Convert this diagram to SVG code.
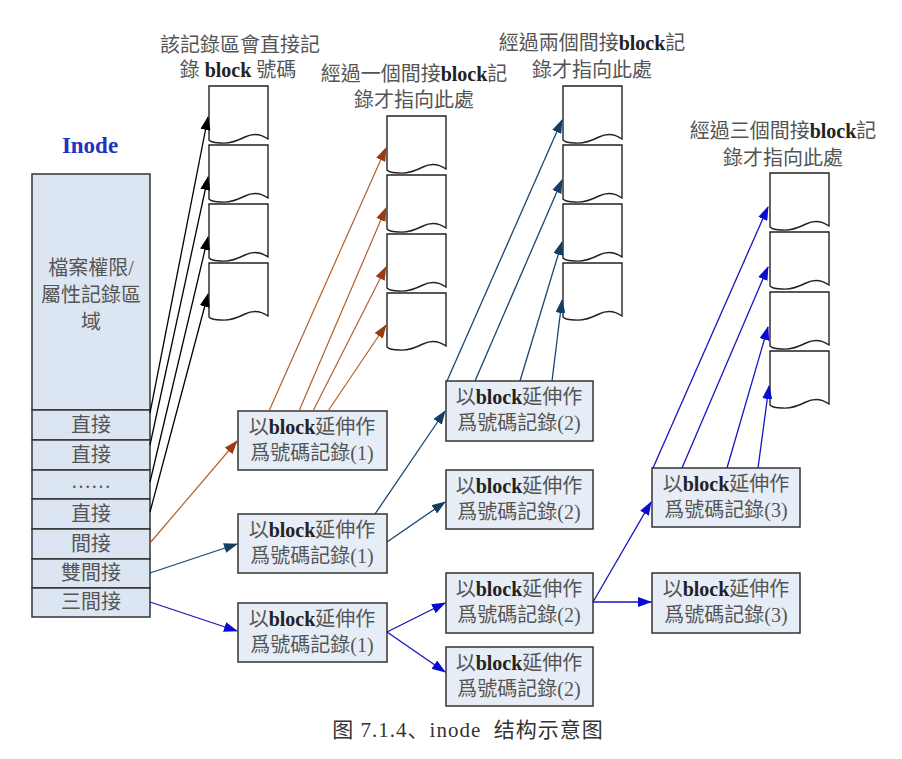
<svg xmlns="http://www.w3.org/2000/svg" xmlns:xlink="http://www.w3.org/1999/xlink" width="902" height="759" viewBox="0 0 902 759">
<style>
.t{font-family:"Liberation Serif","Noto Sans CJK TC",serif;font-size:20px;fill:#555;text-anchor:middle}
.b{font-weight:bold;fill:#222}
.box{fill:#e7edf6;stroke:#333;stroke-width:1.5}
.ino{fill:#dce6f2;stroke:#333;stroke-width:1.5}
.doc{fill:#fff;stroke:#222;stroke-width:1.4}
.k{stroke:#000;stroke-width:1.3;fill:none;marker-end:url(#ak)}
.r{stroke:#b0602c;stroke-width:1.2;fill:none;marker-end:url(#ar)}
.d{stroke:#1a4670;stroke-width:1.3;fill:none;marker-end:url(#ad)}
.u{stroke:#1515c0;stroke-width:1.3;fill:none;marker-end:url(#au)}
</style>
<defs>
<path id="doc" class="doc" d="M0,0 H59 V53 C52,48 44,47 36,51 C28,55 20,58 12,57 C6,57 2,56 0,54 Z"/>
<marker id="ak" markerWidth="14" markerHeight="10" refX="13" refY="5" orient="auto" markerUnits="userSpaceOnUse"><path d="M0,0 L14,5 L0,10 Z" fill="#000"/></marker>
<marker id="ar" markerWidth="14" markerHeight="10" refX="13" refY="5" orient="auto" markerUnits="userSpaceOnUse"><path d="M0,0 L14,5 L0,10 Z" fill="#9a3c12"/></marker>
<marker id="ad" markerWidth="14" markerHeight="10" refX="13" refY="5" orient="auto" markerUnits="userSpaceOnUse"><path d="M0,0 L14,5 L0,10 Z" fill="#133d63"/></marker>
<marker id="au" markerWidth="14" markerHeight="10" refX="13" refY="5" orient="auto" markerUnits="userSpaceOnUse"><path d="M0,0 L14,5 L0,10 Z" fill="#0a0ad0"/></marker>
</defs>
<rect width="902" height="759" fill="#fff"/>

<g id="inode">
<text x="90" y="153" style="font-family:'Liberation Serif',serif;font-size:23px;font-weight:bold;fill:#2233c0;text-anchor:middle">Inode</text>
<rect class="ino" x="32" y="174" width="118" height="236"/>
<text class="t" x="91" y="275">檔案權限/</text>
<text class="t" x="91" y="302">屬性記錄區</text>
<text class="t" x="91" y="329">域</text>
<rect class="ino" x="32" y="410" width="118" height="30"/>
<text class="t" x="91" y="432">直接</text>
<rect class="ino" x="32" y="440" width="118" height="30"/>
<text class="t" x="91" y="462">直接</text>
<rect class="ino" x="32" y="470" width="118" height="29"/>
<text class="t" x="91" y="488">……</text>
<rect class="ino" x="32" y="499" width="118" height="30"/>
<text class="t" x="91" y="521">直接</text>
<rect class="ino" x="32" y="529" width="118" height="30"/>
<text class="t" x="91" y="551">間接</text>
<rect class="ino" x="32" y="559" width="118" height="29"/>
<text class="t" x="91" y="580">雙間接</text>
<rect class="ino" x="32" y="588" width="118" height="29"/>
<text class="t" x="91" y="609">三間接</text>
</g>

<g id="col-direct">
<text class="t" x="240" y="52">該記錄區會直接記</text>
<text class="t" x="238" y="77">錄 <tspan class="b">block</tspan> 號碼</text>
<use xlink:href="#doc" x="209" y="86"/>
<use xlink:href="#doc" x="209" y="145"/>
<use xlink:href="#doc" x="209" y="204"/>
<use xlink:href="#doc" x="209" y="263"/>
</g>

<g id="col-single">
<text class="t" x="414" y="81">經過一個間接<tspan class="b">block</tspan>記</text>
<text class="t" x="414" y="107">錄才指向此處</text>
<use xlink:href="#doc" x="387" y="116"/>
<use xlink:href="#doc" x="387" y="175"/>
<use xlink:href="#doc" x="387" y="234"/>
<use xlink:href="#doc" x="387" y="293"/>
</g>

<g id="col-double">
<text class="t" x="592" y="50">經過兩個間接<tspan class="b">block</tspan>記</text>
<text class="t" x="592" y="77">錄才指向此處</text>
<use xlink:href="#doc" x="563" y="86"/>
<use xlink:href="#doc" x="563" y="145"/>
<use xlink:href="#doc" x="563" y="204"/>
<use xlink:href="#doc" x="563" y="263"/>
</g>

<g id="col-triple">
<text class="t" x="783" y="138">經過三個間接<tspan class="b">block</tspan>記</text>
<text class="t" x="783" y="165">錄才指向此處</text>
<use xlink:href="#doc" x="770" y="173"/>
<use xlink:href="#doc" x="770" y="232"/>
<use xlink:href="#doc" x="770" y="292"/>
<use xlink:href="#doc" x="770" y="351"/>
</g>

<g id="boxA"><rect class="box" x="238" y="411" width="149" height="59"/>
<text class="t" x="312" y="434">以<tspan class="b">block</tspan>延伸作</text><text class="t" x="312" y="460">爲號碼記錄(1)</text></g>
<g id="boxB"><rect class="box" x="238" y="514" width="149" height="59"/>
<text class="t" x="312" y="537">以<tspan class="b">block</tspan>延伸作</text><text class="t" x="312" y="563">爲號碼記錄(1)</text></g>
<g id="boxC"><rect class="box" x="238" y="603" width="149" height="59"/>
<text class="t" x="312" y="626">以<tspan class="b">block</tspan>延伸作</text><text class="t" x="312" y="652">爲號碼記錄(1)</text></g>
<g id="boxD"><rect class="box" x="446" y="381" width="147" height="60"/>
<text class="t" x="519" y="404">以<tspan class="b">block</tspan>延伸作</text><text class="t" x="519" y="430">爲號碼記錄(2)</text></g>
<g id="boxE"><rect class="box" x="446" y="470" width="147" height="59"/>
<text class="t" x="519" y="493">以<tspan class="b">block</tspan>延伸作</text><text class="t" x="519" y="519">爲號碼記錄(2)</text></g>
<g id="boxF"><rect class="box" x="446" y="573" width="147" height="60"/>
<text class="t" x="519" y="596">以<tspan class="b">block</tspan>延伸作</text><text class="t" x="519" y="622">爲號碼記錄(2)</text></g>
<g id="boxG"><rect class="box" x="446" y="647" width="147" height="59"/>
<text class="t" x="519" y="670">以<tspan class="b">block</tspan>延伸作</text><text class="t" x="519" y="696">爲號碼記錄(2)</text></g>
<g id="boxH"><rect class="box" x="652" y="468" width="148" height="59"/>
<text class="t" x="726" y="491">以<tspan class="b">block</tspan>延伸作</text><text class="t" x="726" y="517">爲號碼記錄(3)</text></g>
<g id="boxI"><rect class="box" x="652" y="573" width="148" height="60"/>
<text class="t" x="726" y="596">以<tspan class="b">block</tspan>延伸作</text><text class="t" x="726" y="622">爲號碼記錄(3)</text></g>

<g id="connectors">
<line class="k" x1="150" y1="413" x2="208" y2="117"/>
<line class="k" x1="150" y1="445" x2="208" y2="177"/>
<line class="k" x1="150" y1="482" x2="208" y2="237"/>
<line class="k" x1="150" y1="512" x2="208" y2="294"/>

<line class="r" x1="150" y1="543" x2="237" y2="441"/>
<line class="r" x1="269" y1="411" x2="386" y2="148"/>
<line class="r" x1="299" y1="411" x2="386" y2="208"/>
<line class="r" x1="313" y1="411" x2="386" y2="267"/>
<line class="r" x1="328" y1="411" x2="386" y2="325"/>

<line class="d" x1="150" y1="573" x2="237" y2="544"/>
<line class="d" x1="375" y1="514" x2="445" y2="411"/>
<line class="d" x1="387" y1="542" x2="445" y2="502"/>
<line class="d" x1="447" y1="381" x2="562" y2="120"/>
<line class="d" x1="475" y1="381" x2="562" y2="180"/>
<line class="d" x1="520" y1="381" x2="562" y2="242"/>
<line class="d" x1="552" y1="381" x2="562" y2="300"/>

<line class="u" x1="150" y1="602" x2="237" y2="631"/>
<line class="u" x1="387" y1="632" x2="445" y2="603"/>
<line class="u" x1="387" y1="632" x2="445" y2="672"/>
<line class="u" x1="593" y1="602" x2="651" y2="502"/>
<line class="u" x1="593" y1="602" x2="651" y2="602"/>
<line class="u" x1="653" y1="468" x2="768" y2="207"/>
<line class="u" x1="682" y1="468" x2="768" y2="267"/>
<line class="u" x1="727" y1="468" x2="768" y2="327"/>
<line class="u" x1="758" y1="468" x2="769" y2="386"/>
</g>

<text x="468" y="737" xml:space="preserve" style="font-family:'Liberation Serif','Noto Sans CJK SC',serif;font-size:21px;letter-spacing:1px;fill:#333;text-anchor:middle">图 7.1.4、inode  结构示意图</text>
</svg>
